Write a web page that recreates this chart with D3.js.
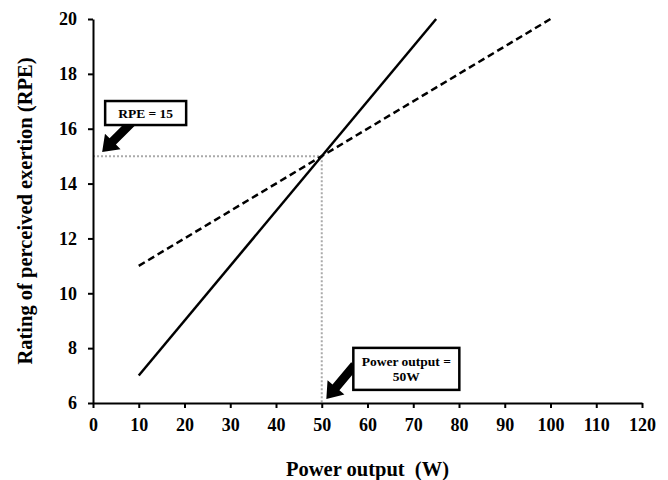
<!DOCTYPE html>
<html><head><meta charset="utf-8">
<script src="https://cdn.jsdelivr.net/npm/d3@7"></script>
<style>body{margin:0;background:#fff}svg{display:block}</style>
</head><body>
<svg id="c" width="668" height="480"></svg>
<script>
const xTicks = [0,10,20,30,40,50,60,70,80,90,100,110,120];
const yTicks = [6,8,10,12,14,16,18,20];
const solidLine = [{x:10,y:7},{x:75,y:20}];
const dashedLine = [{x:10,y:11},{x:100,y:20}];
const refPoint = {x:50,y:15};
const xTitle = "Power output  (W)";
const yTitle = "Rating of perceived exertion (RPE)";
const notes = [
  {lines:["RPE = 15"], tipX:2, tipY:15.15},
  {lines:["Power output =","50W"], tipX:51, tipY:6.15}
];

const W=668,H=480, m={l:93,t:19,r:26,b:77};
const svg=d3.select("#c");
const x=d3.scaleLinear().domain([0,120]).range([m.l,W-m.r]);
const y=d3.scaleLinear().domain([6,20]).range([H-m.b,m.t]);
const font="'Liberation Serif','Times New Roman',serif";

// reference dotted lines
svg.append("line").attr("x1",x(0)).attr("x2",x(refPoint.x)).attr("y1",y(refPoint.y)).attr("y2",y(refPoint.y))
  .attr("stroke","#aaa").attr("stroke-width",2).attr("stroke-dasharray","2,2");
svg.append("line").attr("x1",x(refPoint.x)).attr("x2",x(refPoint.x)).attr("y1",y(refPoint.y)).attr("y2",y(6))
  .attr("stroke","#aaa").attr("stroke-width",2).attr("stroke-dasharray","2,2");

const line=d3.line().x(d=>x(d.x)).y(d=>y(d.y));
svg.append("path").attr("d",line(solidLine)).attr("fill","none").attr("stroke","#000").attr("stroke-width",2.5);
svg.append("path").attr("d",line(dashedLine)).attr("fill","none").attr("stroke","#000").attr("stroke-width",2.5).attr("stroke-dasharray","7,4");

// axes
const xa=svg.append("g").attr("transform",`translate(0,${y(6)})`).call(d3.axisBottom(x).tickValues(xTicks).tickSize(5).tickPadding(10).tickSizeOuter(0));
const ya=svg.append("g").attr("transform",`translate(${x(0)},0)`).call(d3.axisLeft(y).tickValues(yTicks).tickSize(5).tickPadding(11).tickSizeOuter(0));
[xa,ya].forEach(a=>{
  a.select(".domain").attr("stroke","#000").attr("stroke-width",2);
  a.selectAll(".tick line").attr("stroke","#000").attr("stroke-width",2);
  a.selectAll(".tick text").attr("font-family",font).attr("font-weight","bold").attr("font-size",18).attr("fill","#000");
});

svg.append("text").attr("x",(x(0)+x(120))/2).attr("y",476).attr("text-anchor","middle")
  .attr("font-family",font).attr("font-weight","bold").attr("font-size",20.5).attr("xml:space","preserve").text(xTitle);
svg.append("text").attr("transform",`translate(32,${(y(6)+y(20))/2}) rotate(-90)`).attr("text-anchor","middle")
  .attr("font-family",font).attr("font-weight","bold").attr("font-size",20.5).text(yTitle);

// annotations: block arrows + boxes
function blockArrow(tx,ty,len,angDeg){
  const sw=4.5, hw=11, hl=15;
  const pts=[[0,0],[hl,-hw],[hl,-sw],[len,-sw],[len,sw],[hl,sw],[hl,hw]];
  const a=angDeg*Math.PI/180, c=Math.cos(a), s=Math.sin(a);
  return pts.map(([u,v])=>[tx+u*c-v*s, ty+u*s+v*c]);
}
const boxes=[
  {dx:3, dy:-51, w:81, h:24, len:42, ang:-45},
  {dx:27, dy:-51, w:106, h:42, len:44, ang:-50}
];
notes.forEach((n,i)=>{
  const b=boxes[i];
  const tx=x(n.tipX), ty=y(n.tipY);
  svg.append("polygon").attr("points",blockArrow(tx,ty,b.len,b.ang).map(p=>p.join(",")).join(" ")).attr("fill","#000");
  const bx=tx+b.dx, by=ty+b.dy;
  svg.append("rect").attr("x",bx).attr("y",by).attr("width",b.w).attr("height",b.h)
    .attr("fill","#fff").attr("stroke","#000").attr("stroke-width",2.5);
  const lh=15, y0=by+b.h/2-(n.lines.length-1)*lh/2;
  n.lines.forEach((t,j)=>{
    svg.append("text").attr("x",bx+b.w/2).attr("y",y0+j*lh).attr("dy","0.35em").attr("text-anchor","middle")
      .attr("font-family",font).attr("font-weight","bold").attr("font-size",13.5).text(t);
  });
});
</script>
</body></html>
